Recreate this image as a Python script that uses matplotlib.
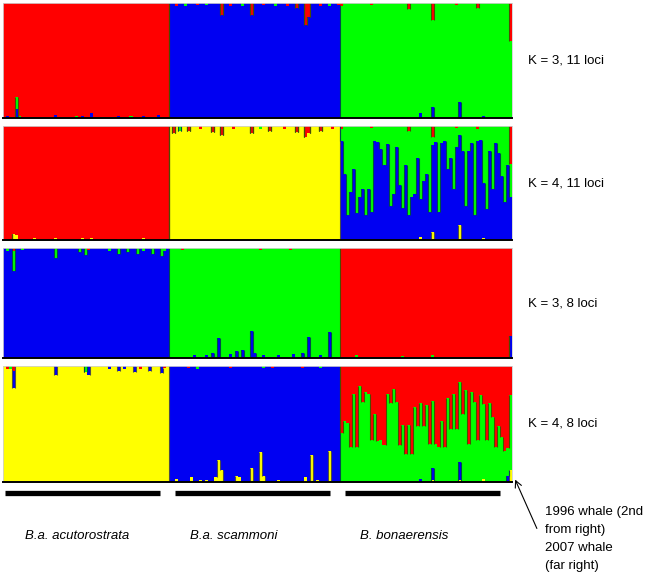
import numpy as np
import matplotlib
matplotlib.use('Agg')
import matplotlib.pyplot as plt

plt.rcParams['font.family'] = ['Liberation Sans', 'DejaVu Sans']

# --- data -------------------------------------------------------------
groups = ['B.a. acutorostrata', 'B.a. scammoni', 'B. bonaerensis']
group_sizes = [55, 57, 57]
panel_labels = ['K = 3, 11 loci', 'K = 4, 11 loci', 'K = 3, 8 loci', 'K = 4, 8 loci']
note = '1996 whale (2nd\nfrom right)\n2007 whale\n(far right)'

colors = {'red': '#ff0000', 'blue': '#0000f2', 'green': '#00ff00', 'yellow': '#ffff00'}
order_k3 = ['blue', 'green', 'red']              # stacking bottom -> top
order_k4 = ['yellow', 'blue', 'green', 'red']

# main cluster per group, and admixture bits (group, individual, cluster, fraction)
p1_main = ['red', 'blue', 'green']
p1_bits = [
    (0, 1, 'blue', 0.02), (0, 4, 'blue', 0.08), (0, 4, 'green', 0.10), (0, 5, 'green', 0.02),
    (0, 8, 'blue', 0.01), (0, 17, 'blue', 0.03), (0, 24, 'green', 0.02), (0, 26, 'blue', 0.02),
    (0, 29, 'blue', 0.04), (0, 33, 'green', 0.01), (0, 38, 'blue', 0.02), (0, 42, 'green', 0.02),
    (0, 46, 'blue', 0.02), (0, 51, 'blue', 0.03),
    (1, 2, 'red', 0.03), (1, 5, 'green', 0.03), (1, 9, 'red', 0.02), (1, 12, 'green', 0.02),
    (1, 17, 'red', 0.10), (1, 20, 'red', 0.03), (1, 24, 'green', 0.03), (1, 27, 'red', 0.10),
    (1, 31, 'red', 0.02), (1, 35, 'green', 0.03), (1, 39, 'red', 0.03), (1, 42, 'red', 0.04),
    (1, 45, 'red', 0.19), (1, 46, 'red', 0.12), (1, 50, 'red', 0.03), (1, 53, 'green', 0.03),
    (1, 56, 'red', 0.02),
    (2, 0, 'red', 0.03), (2, 10, 'red', 0.02), (2, 22, 'red', 0.05), (2, 30, 'red', 0.15),
    (2, 38, 'red', 0.02), (2, 45, 'red', 0.04), (2, 56, 'red', 0.33),
    (2, 20, 'blue', 0.01), (2, 26, 'blue', 0.04), (2, 30, 'blue', 0.10), (2, 39, 'blue', 0.14),
    (2, 47, 'blue', 0.02),
]

p2_main = ['red', 'yellow', 'green']
p2_bon_blue = [0.87, 0.58, 0.22, 0.42, 0.62, 0.24, 0.38, 0.45, 0.22, 0.45,
               0.25, 0.87, 0.86, 0.80, 0.66, 0.84, 0.30, 0.40, 0.82, 0.48,
               0.28, 0.66, 0.22, 0.38, 0.40, 0.72, 0.33, 0.52, 0.58, 0.25,
               0.76, 0.86, 0.25, 0.85, 0.87, 0.62, 0.72, 0.45, 0.82, 0.79,
               0.78, 0.30, 0.78, 0.85, 0.22, 0.87, 0.88, 0.48, 0.27, 0.78,
               0.45, 0.85, 0.76, 0.56, 0.33, 0.66, 0.38]
p2_bits = [
    (0, 3, 'yellow', 0.05), (0, 4, 'yellow', 0.04), (0, 10, 'yellow', 0.02), (0, 17, 'yellow', 0.02),
    (0, 26, 'yellow', 0.02), (0, 29, 'yellow', 0.02), (0, 38, 'yellow', 0.01), (0, 46, 'yellow', 0.02),
    (1, 1, 'red', 0.06), (1, 3, 'green', 0.04), (1, 6, 'red', 0.04), (1, 10, 'red', 0.03),
    (1, 14, 'red', 0.05), (1, 17, 'red', 0.08), (1, 21, 'red', 0.03), (1, 27, 'red', 0.06),
    (1, 30, 'green', 0.03), (1, 33, 'red', 0.04), (1, 38, 'red', 0.03), (1, 42, 'red', 0.05),
    (1, 45, 'red', 0.10), (1, 46, 'red', 0.06), (1, 50, 'red', 0.04), (1, 54, 'red', 0.03),
    (2, 0, 'red', 0.03), (2, 10, 'red', 0.02), (2, 22, 'red', 0.04), (2, 30, 'red', 0.10),
    (2, 38, 'red', 0.02), (2, 45, 'red', 0.03), (2, 56, 'red', 0.33),
    (2, 26, 'yellow', 0.03), (2, 30, 'yellow', 0.07), (2, 39, 'yellow', 0.13), (2, 47, 'yellow', 0.02),
]

p3_main = ['blue', 'green', 'red']
p3_bits = [
    (0, 1, 'green', 0.03), (0, 3, 'green', 0.18), (0, 3, 'red', 0.03), (0, 6, 'green', 0.02),
    (0, 17, 'green', 0.09), (0, 25, 'green', 0.04), (0, 27, 'green', 0.06), (0, 28, 'red', 0.02),
    (0, 35, 'green', 0.03), (0, 38, 'green', 0.05), (0, 41, 'green', 0.04), (0, 44, 'green', 0.05),
    (0, 46, 'green', 0.03), (0, 49, 'green', 0.05), (0, 52, 'green', 0.07), (0, 53, 'green', 0.03),
    (1, 4, 'red', 0.02), (1, 30, 'red', 0.02), (1, 40, 'red', 0.02),
    (1, 8, 'blue', 0.03), (1, 12, 'blue', 0.03), (1, 14, 'blue', 0.05), (1, 16, 'blue', 0.18),
    (1, 20, 'blue', 0.04), (1, 22, 'blue', 0.06), (1, 24, 'blue', 0.07), (1, 27, 'blue', 0.25),
    (1, 28, 'blue', 0.05), (1, 31, 'blue', 0.03), (1, 36, 'blue', 0.03), (1, 41, 'blue', 0.04),
    (1, 44, 'blue', 0.05), (1, 46, 'blue', 0.19), (1, 50, 'blue', 0.03), (1, 53, 'blue', 0.24),
    (2, 5, 'green', 0.03), (2, 20, 'green', 0.02), (2, 30, 'green', 0.03), (2, 56, 'blue', 0.20),
]

p4_main = ['yellow', 'blue', 'red']
p4_bon_green = [0.42, 0.53, 0.51, 0.30, 0.76, 0.30, 0.83, 0.69, 0.78, 0.76,
                0.36, 0.59, 0.35, 0.36, 0.32, 0.76, 0.68, 0.80, 0.69, 0.32,
                0.49, 0.24, 0.49, 0.24, 0.65, 0.48, 0.65, 0.48, 0.66, 0.33,
                0.58, 0.33, 0.30, 0.53, 0.30, 0.72, 0.46, 0.76, 0.46, 0.69,
                0.59, 0.79, 0.33, 0.78, 0.69, 0.36, 0.75, 0.64, 0.36, 0.68,
                0.56, 0.30, 0.48, 0.39, 0.27, 0.24, 0.65]
p4_bits = [
    (0, 1, 'red', 0.03), (0, 2, 'green', 0.03), (0, 3, 'blue', 0.15), (0, 3, 'red', 0.04),
    (0, 17, 'blue', 0.08), (0, 27, 'green', 0.05), (0, 28, 'blue', 0.08), (0, 35, 'blue', 0.03),
    (0, 38, 'blue', 0.04), (0, 40, 'blue', 0.03), (0, 43, 'blue', 0.05), (0, 45, 'red', 0.03),
    (0, 48, 'blue', 0.04), (0, 52, 'blue', 0.06), (0, 53, 'red', 0.02),
    (1, 2, 'yellow', 0.03), (1, 7, 'yellow', 0.04), (1, 10, 'yellow', 0.02), (1, 12, 'yellow', 0.02),
    (1, 15, 'yellow', 0.04), (1, 16, 'yellow', 0.19), (1, 17, 'yellow', 0.10), (1, 22, 'yellow', 0.05),
    (1, 23, 'yellow', 0.04), (1, 27, 'yellow', 0.12), (1, 30, 'yellow', 0.26), (1, 31, 'yellow', 0.05),
    (1, 36, 'yellow', 0.02), (1, 45, 'yellow', 0.04), (1, 47, 'yellow', 0.23), (1, 49, 'yellow', 0.02),
    (1, 53, 'yellow', 0.27),
    (1, 6, 'red', 0.02), (1, 9, 'green', 0.03), (1, 20, 'red', 0.02), (1, 31, 'green', 0.02),
    (1, 34, 'red', 0.02), (1, 44, 'red', 0.02), (1, 50, 'green', 0.02),
    (2, 26, 'blue', 0.03), (2, 30, 'blue', 0.10), (2, 30, 'yellow', 0.02), (2, 39, 'blue', 0.15),
    (2, 39, 'yellow', 0.02), (2, 47, 'yellow', 0.03), (2, 55, 'blue', 0.05), (2, 56, 'yellow', 0.10),
]


def build(order, main, bits, full=None):
    """Return (n_ind, K) membership matrix."""
    starts = np.cumsum([0] + group_sizes[:-1])
    q = np.zeros((sum(group_sizes), len(order)))
    if full is not None:
        g, cl, vals = full
        q[starts[g]:starts[g] + group_sizes[g], order.index(cl)] = vals
    for g, i, cl, f in bits:
        q[starts[g] + i, order.index(cl)] += f
    for g, m in enumerate(main):
        k = order.index(m)
        sl = slice(starts[g], starts[g] + group_sizes[g])
        q[sl, k] = 0
        q[sl, k] = np.clip(1 - q[sl].sum(axis=1), 0, 1)
    return q


panels = [
    (order_k3, build(order_k3, p1_main, p1_bits)),
    (order_k4, build(order_k4, p2_main, p2_bits, (2, 'blue', p2_bon_blue))),
    (order_k3, build(order_k3, p3_main, p3_bits)),
    (order_k4, build(order_k4, p4_main, p4_bits, (2, 'green', p4_bon_green))),
]

W, H = 654, 572
fig = plt.figure(figsize=(W / 100, H / 100), dpi=100)

rows = [(3, 118), (126, 240), (248, 358), (366, 482)]
left, right = 3, 512
n = sum(group_sizes)
x = np.arange(n)

for (order, q), (top, bot), lab in zip(panels, rows, panel_labels):
    ax = fig.add_axes([left / W, 1 - bot / H, (right - left) / W, (bot - top) / H])
    bottom = np.zeros(n)
    for k, cl in enumerate(order):
        ax.bar(x, q[:, k], bottom=bottom, width=1.0, align='edge',
               color=colors[cl], linewidth=0, antialiased=False)
        bottom = bottom + q[:, k]
    # dark edge lines where neighbouring bars change
    cum = np.cumsum(q, axis=1)
    for k in range(len(order) - 1):
        c1 = np.array(matplotlib.colors.to_rgb(colors[order[k]]))
        c2 = np.array(matplotlib.colors.to_rgb(colors[order[k + 1]]))
        mix = (c1 + c2) / 2 * 0.6
        d = np.abs(np.diff(cum[:, k]))
        idx = np.where(d > 0.04)[0] + 1
        ax.vlines(idx, np.minimum(cum[idx - 1, k], cum[idx, k]),
                  np.maximum(cum[idx - 1, k], cum[idx, k]), color=mix, lw=0.8)
    ax.set_xlim(0, n)
    ax.set_ylim(0, 1)
    ax.set_xticks([])
    ax.set_yticks([])
    for s in ['top', 'left', 'right']:
        ax.spines[s].set_color('#d0d0d0')
        ax.spines[s].set_linewidth(0.6)
    ax.spines['bottom'].set_color('black')
    ax.spines['bottom'].set_linewidth(1.4)
    fig.text(528 / W, 1 - ((top + bot) / 2) / H, lab, fontsize=9.5, va='center', ha='left')

# annotations in pixel coordinates
ov = fig.add_axes([0, 0, 1, 1], facecolor='none')
ov.set_xlim(0, W)
ov.set_ylim(H, 0)
ov.axis('off')

bar_x = [(5, 160), (175, 330), (345, 500)]
label_x = [25, 190, 360]
for (x0, x1), lx, g in zip(bar_x, label_x, groups):
    ov.plot([x0, x1], [493, 493], color='black', lw=3.8, solid_capstyle='butt')
    ov.text(lx, 536, g, fontsize=9.5, style='italic', va='center', ha='left')

ov.annotate('', xy=(514, 477), xytext=(538, 531),
            arrowprops=dict(arrowstyle='->', color='black', lw=0.8, mutation_scale=12))
ov.text(545, 506, note, fontsize=9.5, va='top', ha='left', linespacing=1.68)

fig.savefig('out.png', dpi=100)
